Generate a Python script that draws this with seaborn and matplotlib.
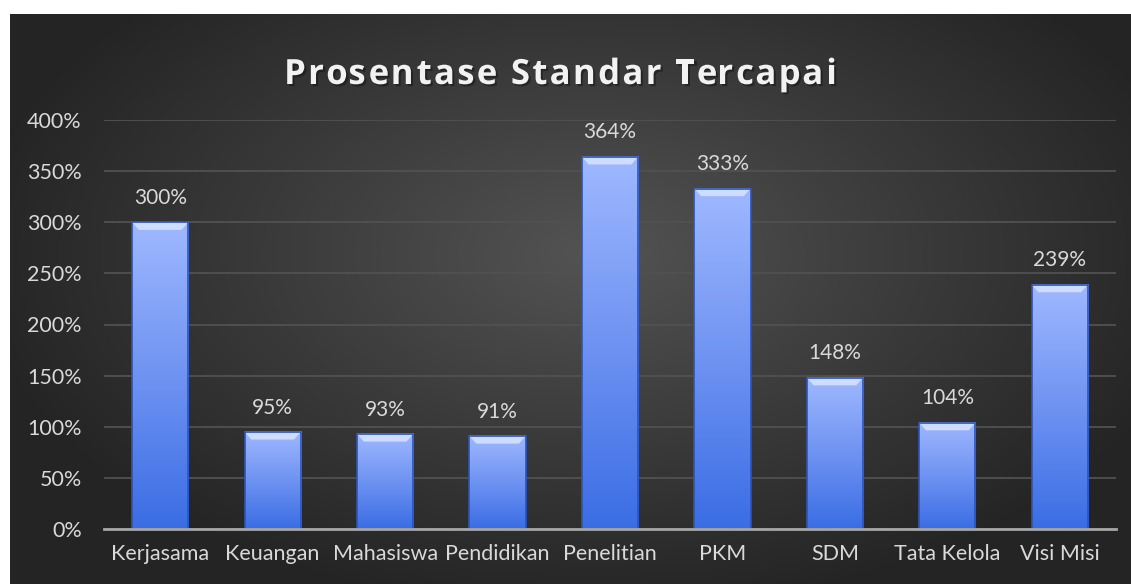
import numpy as np
import pandas as pd
import matplotlib
matplotlib.use("Agg")
import matplotlib.pyplot as plt
import matplotlib.patheffects as pe
from matplotlib.colors import LinearSegmentedColormap
from matplotlib.patches import Polygon
import seaborn as sns

# Data
kategori = ["Kerjasama", "Keuangan", "Mahasiswa", "Pendidikan", "Penelitian",
            "PKM", "SDM", "Tata Kelola", "Visi Misi"]
persen = [300, 95, 93, 91, 364, 333, 148, 104, 239]
yticks = [0, 50, 100, 150, 200, 250, 300, 350, 400]
judul = "Prosentase Standar Tercapai"

df = pd.DataFrame({"kategori": kategori, "persen": persen})

sns.set_theme(style="dark")
plt.rcParams["font.family"] = ["Lato", "DejaVu Sans"]
teks = "#d9d9d9"

W, H = 1131, 584
fig = plt.figure(figsize=(W / 100, H / 100), dpi=100, facecolor="white")

# latar belakang gelap dengan gradien radial
bg = fig.add_axes([10 / W, 0, 1 - 10 / W, 1 - 14 / H], zorder=-5)
yy, xx = np.mgrid[0:1:300j, 0:1:600j]
r = np.sqrt(((xx - 0.52) / 0.75) ** 2 + ((yy - 0.42) / 0.85) ** 2)
r = np.clip(r / 0.75, 0, 1)
cm_bg = LinearSegmentedColormap.from_list("bg", ["#535353", "#3b3b3b", "#242424"])
bg.imshow(r, cmap=cm_bg, aspect="auto", extent=(0, 1, 0, 1), origin="upper")
bg.set_axis_off()

ax = fig.add_axes([104 / W, 1 - 529 / H, (1116 - 104) / W, (529 - 120) / H])
ax.set_facecolor("none")

sns.barplot(data=df, x="kategori", y="persen", color="#5b86f0", width=0.5, ax=ax,
            saturation=1, zorder=3)

cm_bar = LinearSegmentedColormap.from_list("bar", ["#3a6de4", "#6f93f2", "#9fb8ff"])
grad = np.linspace(0, 1, 256).reshape(-1, 1)
for p in ax.patches:
    x0, w, h = p.get_x(), p.get_width(), p.get_height()
    ax.imshow(grad, cmap=cm_bar, aspect="auto", origin="lower",
              extent=(x0, x0 + w, 0, h), zorder=3)
    p.set_facecolor("none")
    p.set_edgecolor("#2c54b8")
    p.set_linewidth(1.2)
    p.set_zorder(5)
    # efek bevel di atas batang
    bh, bw = 7.5, 0.06
    ax.add_patch(Polygon([(x0, h), (x0 + w, h), (x0 + w - bw, h - bh), (x0 + bw, h - bh)],
                         closed=True, facecolor="#cddcff", edgecolor="none", zorder=4))
    ax.text(x0 + w / 2, h + 14, f"{h:.0f}%", ha="center", va="bottom",
            color=teks, fontsize=15)

ax.set_xlim(-0.5, len(kategori) - 0.5)
ax.set_ylim(0, 400)
ax.set_yticks(yticks)
ax.set_yticklabels([f"{t}%" for t in yticks])
ax.yaxis.grid(True, color="#515151", linewidth=1.3, zorder=0)
ax.xaxis.grid(False)
ax.set_axisbelow(True)
for s in ["top", "right", "left"]:
    ax.spines[s].set_visible(False)
ax.spines["bottom"].set_color("#a6a6a6")
ax.spines["bottom"].set_linewidth(2)
ax.spines["bottom"].set_zorder(6)
ax.tick_params(axis="both", colors=teks, labelsize=15.5, length=0)
ax.tick_params(axis="x", pad=11)
ax.tick_params(axis="y", pad=16)
ax.set_xlabel("")
ax.set_ylabel("")

# judul dengan jarak antar huruf
props = dict(fontsize=25, fontweight="bold", color="#f2f2f2",
             family=["Open Sans", "DejaVu Sans"], va="center", ha="left")
renderer = fig.canvas.get_renderer()


def lebar(s):
    t = fig.text(0, 0, s + "x", **props)
    w = t.get_window_extent(renderer).width
    t.remove()
    return w


spasi = 2.3
wx = lebar("")
pos = [lebar(judul[:i]) - wx + i * spasi for i in range(len(judul))]
total = lebar(judul) - wx + spasi * (len(judul) - 1)
mulai = 560.5 - total / 2
for ch, px in zip(judul, pos):
    if ch == " ":
        continue
    fig.text((mulai + px) / W, 1 - 75 / H, ch, **props,
             path_effects=[pe.withSimplePatchShadow(offset=(1.5, -1.5),
                                                    shadow_rgbFace="black", alpha=0.35)])

fig.savefig("out.png", dpi=100, facecolor="white")
